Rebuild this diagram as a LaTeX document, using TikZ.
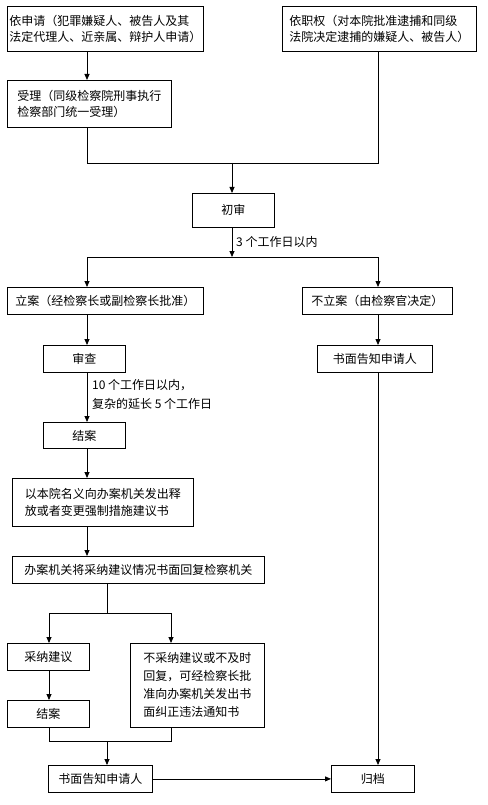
\documentclass[tikz,border=0pt]{standalone}
\usepackage{fontspec}
\newfontfamily\cjk{Noto Sans CJK SC}
\usetikzlibrary{arrows.meta}
\tikzset{
  box/.style={draw, line width=0.8pt, anchor=north west, inner sep=0pt, align=center,
    font=\cjk\fontsize{12}{16.5}\selectfont},
  lbox/.style={box, align=left},
  lbl/.style={inner sep=0pt, align=left, font=\cjk\fontsize{12}{19}\selectfont},
  ln/.style={line width=0.8pt},
  arr/.style={line width=0.8pt, -{Triangle[length=6pt,width=5pt]}}
}
\begin{document}
\begin{tikzpicture}[x=1pt,y=-1pt]
\useasboundingbox (0,0) rectangle (487,805);
% column coordinates
\coordinate (c1) at (87,0);
\coordinate (c2) at (378,0);
\coordinate (j1) at (232,163);
\coordinate (j2) at (232,257);
\coordinate (j3) at (107,613);
\coordinate (j4) at (107,741);
\coordinate (cl) at (49,0);
\coordinate (cr) at (171,0);
% boxes
\node[lbox, minimum width=196pt, minimum height=45pt] (A) at (7,6) {依申请（犯罪嫌疑人、被告人及其\\法定代理人、近亲属、辩护人申请）};
\node[lbox, minimum width=194pt, minimum height=45pt] (B) at (282,6) {依职权（对本院批准逮捕和同级\\法院决定逮捕的嫌疑人、被告人）};
\node[lbox, minimum width=164pt, minimum height=47pt] (C) at (7,80) {受理（同级检察院刑事执行\\检察部门统一受理）\hspace*{12pt}};
\node[box, minimum width=82pt, minimum height=34pt] (D) at (192,193) {初审};
\node[box, minimum width=196pt, minimum height=27pt] (E) at (7,287) {立案（经检察长或副检察长批准）};
\node[box, minimum width=150pt, minimum height=27pt] (F) at (302,287) {不立案（由检察官决定）};
\node[box, minimum width=82pt, minimum height=27pt] (G) at (43,345) {审查};
\node[box, minimum width=115pt, minimum height=27pt] (H) at (317,345) {书面告知申请人};
\node[box, minimum width=82pt, minimum height=26pt] (I) at (43,422) {结案};
\node[lbox, minimum width=181pt, minimum height=48pt] (J) at (12,478) {以本院名义向办案机关发出释\\放或者变更强制措施建议书\hspace*{12pt}};
\node[box, minimum width=252pt, minimum height=27pt] (K) at (12,556) {办案机关将采纳建议情况书面回复检察机关};
\node[box, minimum width=82pt, minimum height=27pt] (L) at (7,643) {采纳建议};
\node[box, minimum width=82pt, minimum height=27pt] (M) at (7,700) {结案};
\node[lbox, minimum width=134pt, minimum height=84pt, font=\cjk\fontsize{12}{18}\selectfont] (N) at (130,643) {不采纳建议或不及时\\回复，可经检察长批\\准向办案机关发出书\\面纠正违法通知书};
\node[box, minimum width=104pt, minimum height=27pt] (O) at (48,765) {书面告知申请人};
\node[box, minimum width=83pt, minimum height=27pt] (P) at (331,765) {归档};
% labels
\node[lbl, anchor=west] (t1) at (236,242) {3 个工作日以内};
\node[lbl, anchor=north west] (t2) at (92,379) {10 个工作日以内，\\复杂的延长 5 个工作日};
% connectors
\draw[arr] (A.south -| c1) -- (C.north -| c1);
\draw[ln] (C.south -| c1) -- (c1 |- j1) -- (c2 |- j1) -- (B.south -| c2);
\draw[arr] (j1) -- (D.north -| j1);
\draw[arr] (D.south -| j2) -- (j2);
\draw[ln] (c1 |- j2) -- (c2 |- j2);
\draw[arr] (c1 |- j2) -- (E.north -| c1);
\draw[arr] (c2 |- j2) -- (F.north -| c2);
\draw[arr] (E.south -| c1) -- (G.north -| c1);
\draw[arr] (G.south -| c1) -- (I.north -| c1);
\draw[arr] (I.south -| c1) -- (J.north -| c1);
\draw[arr] (J.south -| c1) -- (K.north -| c1);
\draw[arr] (F.south -| c2) -- (H.north -| c2);
\draw[arr] (H.south -| c2) -- (P.north -| c2);
\draw[ln] (K.south -| j3) -- (j3);
\draw[ln] (cl |- j3) -- (cr |- j3);
\draw[arr] (cl |- j3) -- (L.north -| cl);
\draw[arr] (cr |- j3) -- (N.north -| cr);
\draw[arr] (L.south -| cl) -- (M.north -| cl);
\draw[ln] (M.south -| cl) -- (cl |- j4) -- (cr |- j4) -- (N.south -| cr);
\draw[arr] (j4) -- (O.north -| j4);
\draw[arr] (O.east) -- (P.west);
\end{tikzpicture}
\end{document}
